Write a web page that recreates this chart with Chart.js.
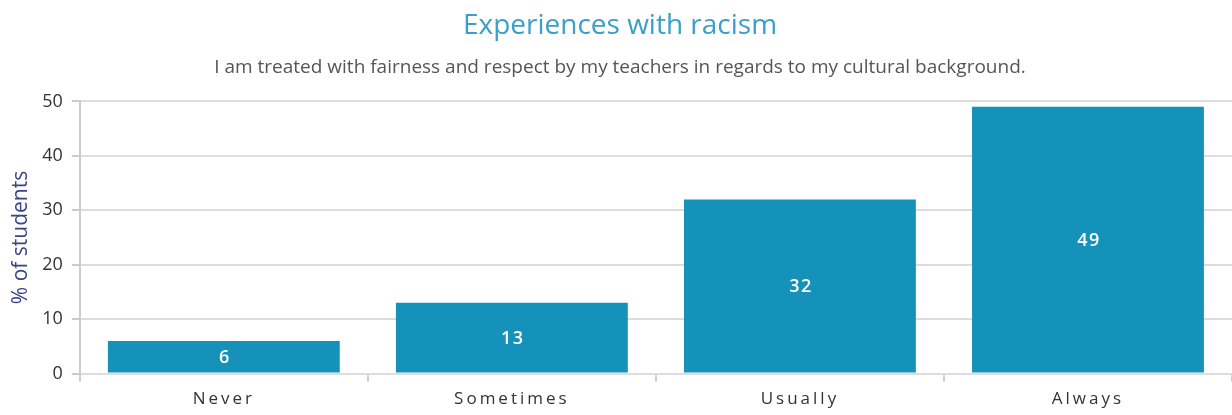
<!DOCTYPE html>
<html>
<head>
<meta charset="utf-8">
<script src="https://cdn.jsdelivr.net/npm/chart.js@4.4.1/dist/chart.umd.min.js"></script>
<style>
  html, body { margin: 0; padding: 0; background: #fff; }
  #wrap { width: 1232px; height: 415px; }
</style>
</head>
<body>
<div id="wrap"><canvas id="ch"></canvas></div>
<script>
// ── Data ──
const categories = ['Never', 'Sometimes', 'Usually', 'Always'];
const values     = [6, 13, 32, 49];
const yTicks     = [0, 10, 20, 30, 40, 50];

const FONT = "'Open Sans', 'Noto Sans', sans-serif";

// value labels inside bars
const barLabels = {
  id: 'barLabels',
  afterDatasetsDraw(chart) {
    const ctx = chart.ctx;
    const meta = chart.getDatasetMeta(0);
    ctx.save();
    ctx.font = '600 18px ' + FONT;
    ctx.fillStyle = '#ffffff';
    ctx.textAlign = 'center';
    ctx.textBaseline = 'middle';
    ctx.letterSpacing = '1.5px';
    meta.data.forEach((bar, i) => {
      const y = (bar.y + bar.base) / 2;
      ctx.fillText(String(values[i]), bar.x + 1, y + 1);
    });
    ctx.restore();
  }
};

// spaced-out x labels
const spacedX = {
  id: 'spacedX',
  beforeDraw(chart) {
    const sc = chart.scales.x;
    if (sc._spaced) return;
    const orig = sc.drawLabels.bind(sc);
    sc.drawLabels = function (area) {
      chart.ctx.save();
      chart.ctx.letterSpacing = '3px';
      orig(area);
      chart.ctx.restore();
    };
    sc._spaced = true;
  }
};

new Chart(document.getElementById('ch'), {
  type: 'bar',
  data: {
    labels: categories,
    datasets: [{
      data: values,
      backgroundColor: '#1592ba',
      categoryPercentage: 1,
      barPercentage: 0.805,
    }]
  },
  options: {
    responsive: true, maintainAspectRatio: false, animation: false,
    layout: { padding: { left: 8, right: 0, top: 0, bottom: -1 } },
    plugins: {
      legend: { display: false },
      tooltip: { enabled: false },
      title: {
        display: true, text: 'Experiences with racism', color: '#3a9fc9',
        font: { family: FONT, size: 28, weight: 'normal' },
        padding: { top: 9, bottom: 6 }
      },
      subtitle: {
        display: true,
        text: 'I am treated with fairness and respect by my teachers in regards to my cultural background.',
        color: '#555555',
        font: { family: FONT, size: 19 },
        padding: { top: 8, bottom: 22 }
      }
    },
    scales: {
      x: {
        offset: true,
        grid: { offset: true, drawOnChartArea: false, color: '#cccccc', lineWidth: 2, tickLength: 8 },
        border: { display: false },
        ticks: { color: '#333333', font: { family: FONT, size: 17 }, padding: 7 }
      },
      y: {
        min: 0, max: 50,
        afterBuildTicks: s => { s.ticks = yTicks.map(v => ({ value: v })); },
        grid: { color: '#dddddd', lineWidth: 2, tickLength: 8, tickColor: '#cccccc' },
        border: { display: true, color: '#cccccc', width: 2 },
        ticks: { color: '#333333', font: { family: FONT, size: 18 }, padding: 9 },
        title: {
          display: true, text: '% of students', color: '#3b4485',
          font: { family: FONT, size: 21 }, padding: { top: 0, bottom: 0 }
        }
      }
    }
  },
  plugins: [barLabels, spacedX]
});
</script>
</body>
</html>
